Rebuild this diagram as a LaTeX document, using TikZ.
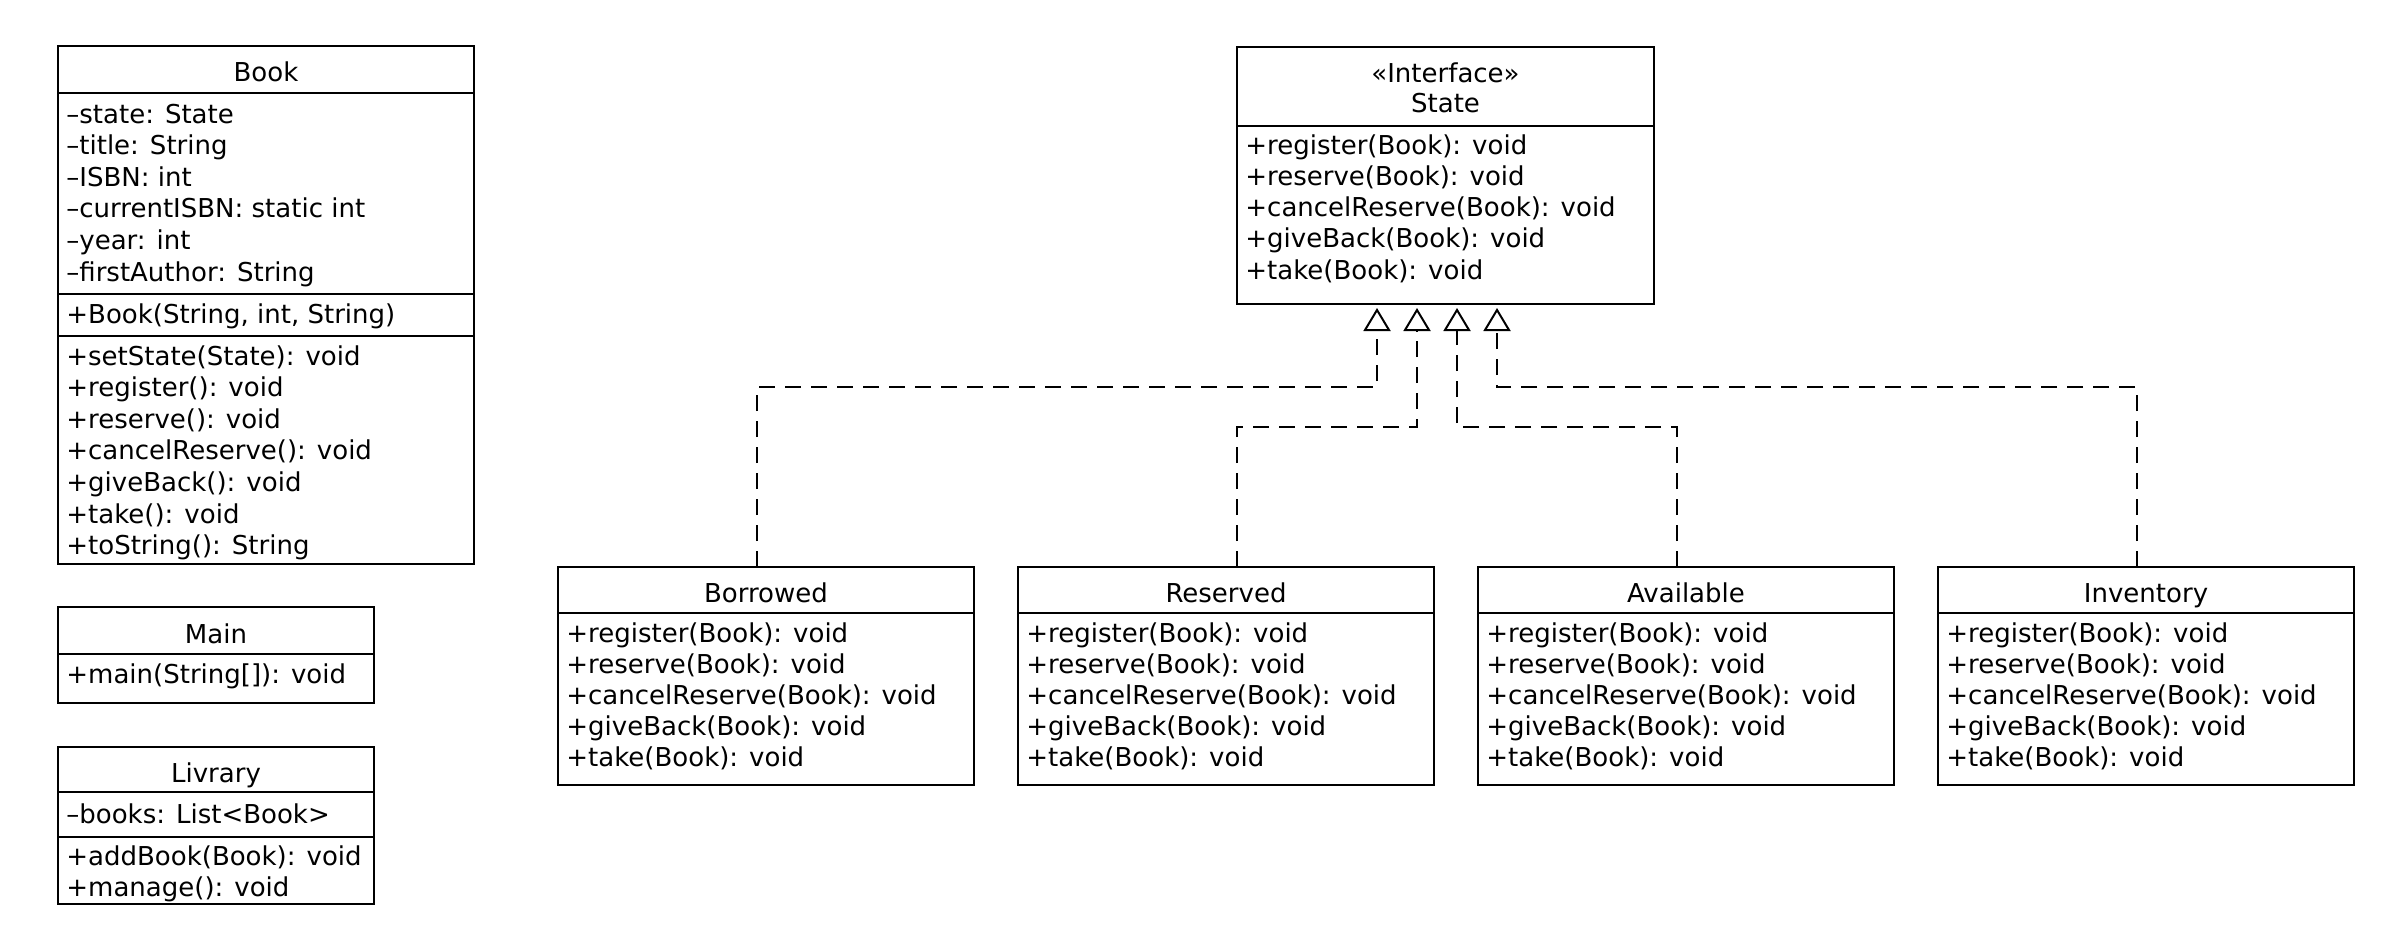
\documentclass[tikz,border=0pt]{standalone}
\usepackage{fontspec}
\setmainfont{DejaVu Sans}
\usetikzlibrary{arrows.meta,fit}
\tikzset{
  box/.style={draw, line width=1pt, inner sep=0pt, outer sep=0pt},
  divider/.style={line width=1pt},
  txt/.style={inner sep=0pt, anchor=base west, font=\fontsize{13}{15.8}\selectfont},
  ttl/.style={inner sep=0pt, anchor=base, font=\fontsize{13}{15.8}\selectfont},
  realize/.style={draw, line width=1pt, dash pattern=on 8pt off 5pt,
    -{Triangle[open, length=11.5pt, width=13.5pt]}},
}
\begin{document}
\begin{tikzpicture}[x=0.5pt, y=-0.5pt]
\useasboundingbox (0,0) rectangle (2396,942);

% ---------- Book ----------
\node[box, fit={(58,46) (474,564)}] (book) {};
\node[ttl] (book-t) at (266,81.5) {Book};
\draw[divider] (58,93) -- (474,93);
\foreach \t [count=\i from 0] in {–state: State, –title: String, –ISBN: int, –currentISBN: static int, –year: int, –firstAuthor: String}
  \node[txt] (book-a\i) at (66,123+31.6*\i) {\t};
\draw[divider] (58,294) -- (474,294);
\node[txt] (book-c) at (66,323) {+Book(String, int, String)};
\draw[divider] (58,336) -- (474,336);
\foreach \t [count=\i from 0] in {+setState(State): void, +register(): void, +reserve(): void, +cancelReserve(): void, +giveBack(): void, +take(): void, +toString(): String}
  \node[txt] (book-m\i) at (66,365+31.6*\i) {\t};

% ---------- Main ----------
\node[box, fit={(58,607) (374,703)}] (main) {};
\node[ttl] (main-t) at (216,643) {Main};
\draw[divider] (58,654) -- (374,654);
\node[txt] (main-m0) at (66,683) {+main(String[]): void};

% ---------- Livrary ----------
\node[box, fit={(58,747) (374,904)}] (lib) {};
\node[ttl] (lib-t) at (216,782) {Livrary};
\draw[divider] (58,792) -- (374,792);
\node[txt] (lib-a0) at (66,823) {–books: List<Book>};
\draw[divider] (58,837) -- (374,837);
\node[txt] (lib-m0) at (66,865) {+addBook(Book): void};
\node[txt] (lib-m1) at (66,896) {+manage(): void};

% ---------- State ----------
\node[box, fit={(1237,47) (1654,304)}] (state) {};
\node[ttl] (state-s) at (1445.5,82) {«Interface»};
\node[ttl] (state-t) at (1445.5,112) {State};
\draw[divider] (1237,126) -- (1654,126);
\foreach \t [count=\i from 0] in {+register(Book): void, +reserve(Book): void, +cancelReserve(Book): void, +giveBack(Book): void, +take(Book): void}
  \node[txt] (state-m\i) at (1245,154+31.3*\i) {\t};

% ---------- concrete states ----------
\foreach \nm/\lbl/\L in {bor/Borrowed/558, res/Reserved/1018, ava/Available/1478, inv/Inventory/1938}{
  \node[box, fit={(\L,567) (\L+416,785)}] (\nm) {};
  \node[ttl] (\nm-t) at (\L+208,602) {\lbl};
  \draw[divider] (\L,613) -- (\L+416,613);
  \foreach \t [count=\i from 0] in {+register(Book): void, +reserve(Book): void, +cancelReserve(Book): void, +giveBack(Book): void, +take(Book): void}
    \node[txt] (\nm-m\i) at (\L+8,642+31*\i) {\t};
}

% ---------- realization connectors ----------
\coordinate (s1) at ([shift={(-68.5,4)}]state.south);
\coordinate (s2) at ([shift={(-28.5,4)}]state.south);
\coordinate (s3) at ([shift={(11.5,4)}]state.south);
\coordinate (s4) at ([shift={(51.5,4)}]state.south);
\coordinate (bor-c) at ([shift={(199,0)}]bor.north west);
\coordinate (res-c) at ([shift={(219,0)}]res.north west);
\coordinate (ava-c) at ([shift={(199,0)}]ava.north west);
\coordinate (inv-c) at ([shift={(199,0)}]inv.north west);

\draw[realize] (bor-c) |- ([yshift=-39.5pt]s1) -- (s1);
\draw[realize] (res-c) |- ([yshift=-59.5pt]s2) -- (s2);
\draw[realize] (ava-c) |- ([yshift=-59.5pt]s3) -- (s3);
\draw[realize] (inv-c) |- ([yshift=-39.5pt]s4) -- (s4);
\end{tikzpicture}
\end{document}
